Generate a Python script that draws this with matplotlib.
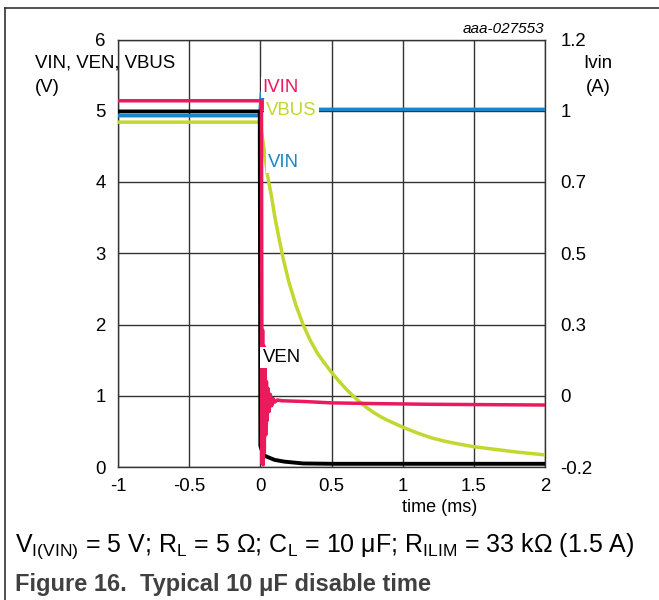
import numpy as np
import matplotlib.pyplot as plt

plt.rcParams['font.family'] = ['Liberation Sans', 'DejaVu Sans']

# VBUS (V)
vbus_t = [-1.0, -0.005, 0.0, 0.02, 0.05, 0.08, 0.10, 0.13, 0.16, 0.20, 0.25, 0.30,
          0.35, 0.40, 0.45, 0.50, 0.55, 0.60, 0.65, 0.70, 0.75, 0.80, 0.85, 0.90,
          1.00, 1.10, 1.20, 1.30, 1.40, 1.50, 1.60, 1.70, 1.80, 1.90, 2.00]
vbus_v = [4.84, 4.84, 4.80, 4.55, 4.10, 3.78, 3.53, 3.22, 2.93, 2.60, 2.27, 2.00,
          1.78, 1.60, 1.46, 1.33, 1.21, 1.10, 1.00, 0.91, 0.83, 0.76, 0.70, 0.65,
          0.56, 0.48, 0.41, 0.36, 0.32, 0.285, 0.26, 0.235, 0.21, 0.19, 0.17]

# VIN (V)
vin_t = [-1.0, -0.005, 0.008, 0.03, 0.1, 2.0]
vin_v = [4.93, 4.93, 5.25, 5.02, 5.02, 5.02]

# VEN (V)
ven_t = [-1.0, -0.004, 0.0, 0.02, 0.045, 0.1, 0.17, 0.3, 0.5, 2.0]
ven_v = [4.99, 4.99, 0.30, 0.17, 0.145, 0.10, 0.075, 0.05, 0.045, 0.045]

# IVIN (plotted on the left scale, right axis relabelled)
ivin_t = [-1.0, 0.008, 0.012, 0.016, 0.020, 0.024, 0.028, 0.033, 0.038, 0.043, 0.048,
          0.055, 0.062, 0.070, 0.080, 0.090, 0.10, 0.12, 0.15, 0.3, 0.5, 0.8, 1.2, 2.0]
ivin_v = [5.14, 5.14, 0.05, 1.92, 0.03, 1.70, 0.20, 1.40, 0.45, 1.20, 0.65,
          1.10, 0.78, 1.02, 0.86, 0.96, 0.91, 0.94, 0.93, 0.92, 0.90, 0.89, 0.88, 0.87]

xticks = [-1, -0.5, 0, 0.5, 1, 1.5, 2]
xtick_labels = ['-1', '-0.5', '0', '0.5', '1', '1.5', '2']
yticks = [0, 1, 2, 3, 4, 5, 6]
right_labels = ['-0.2', '0', '0.3', '0.5', '0.7', '1', '1.2']

pink = '#ea1a5c'
blue = '#1a86c8'
lime = '#c2d82e'
fs = 13.4

fig = plt.figure(figsize=(6.59, 6.0), dpi=100)
ax = fig.add_axes([118 / 659, 1 - 467 / 600, 427 / 659, 427.5 / 600])

ax.plot(vbus_t, vbus_v, color=lime, lw=2.5, zorder=3, solid_joinstyle='round')
ax.plot(vin_t, vin_v, color=blue, lw=2.5, zorder=3)
ax.plot(ven_t, ven_v, color='black', lw=2.8, zorder=4)
ax.plot(ivin_t, ivin_v, color=pink, lw=2.5, zorder=5)

ax.set_xlim(-1, 2)
ax.set_ylim(0, 6)
ax.set_xticks(xticks)
ax.set_xticklabels(xtick_labels)
ax.set_yticks(yticks)
ax.grid(True, color='#333333', lw=1.0)
ax.set_axisbelow(True)
ax.tick_params(length=0, labelsize=fs, pad=8)
ax.tick_params(axis='y', pad=9)
for s in ax.spines.values():
    s.set_color('#333333')
    s.set_linewidth(1.0)

ax2 = ax.twinx()
ax2.set_ylim(0, 6)
ax2.set_yticks(yticks)
ax2.set_yticklabels(right_labels)
ax2.tick_params(length=0, labelsize=fs, pad=11)
for s in ax2.spines.values():
    s.set_visible(False)

box = dict(facecolor='white', edgecolor='none', pad=1.5)
ax.text(0.016, 5.33, 'IVIN', color=pink, fontsize=fs, va='center', ha='left', bbox=box, zorder=6)
ax.text(0.04, 5.01, 'VBUS', color=lime, fontsize=fs, va='center', ha='left', bbox=box, zorder=6)
ax.text(0.054, 4.27, 'VIN', color=blue, fontsize=fs, va='center', ha='left', bbox=box, zorder=6)
ax.text(0.015, 1.54, 'VEN', color='black', fontsize=fs, va='center', ha='left', bbox=box, zorder=6)

fig.text(35 / 659, 1 - 63 / 600, 'VIN, VEN, VBUS', fontsize=fs, va='center', ha='left')
fig.text(35 / 659, 1 - 87 / 600, '(V)', fontsize=fs, va='center', ha='left')
fig.text(598 / 659, 1 - 63 / 600, 'Ivin', fontsize=fs, va='center', ha='center')
fig.text(598 / 659, 1 - 87 / 600, '(A)', fontsize=fs, va='center', ha='center')
fig.text(544 / 659, 1 - 29 / 600, 'aaa-027553', fontsize=11, style='italic', va='center', ha='right')
fig.text(440 / 659, 1 - 507 / 600, 'time (ms)', fontsize=13, va='center', ha='center')

fig.text(15 / 659, 1 - 546 / 600,
         r'V$_{\mathregular{I(VIN)}}$ = 5 V; R$_{\mathregular{L}}$ = 5 Ω; C$_{\mathregular{L}}$ = 10 μF; '
         r'R$_{\mathregular{ILIM}}$ = 33 kΩ (1.5 A)',
         fontsize=18, va='center', ha='left')
fig.text(15 / 659, 1 - 585 / 600, 'Figure 16.  Typical 10 μF disable time',
         fontsize=17, fontweight='bold', color='#404040', va='center', ha='left')

# outer frame (top and left edges)
fig.add_artist(plt.Line2D([5 / 659, 1], [1 - 8 / 600, 1 - 8 / 600], color='#333333', lw=1.2))
fig.add_artist(plt.Line2D([5 / 659, 5 / 659], [0, 1 - 8 / 600], color='#333333', lw=1.2))

fig.savefig('out.png', dpi=100)
